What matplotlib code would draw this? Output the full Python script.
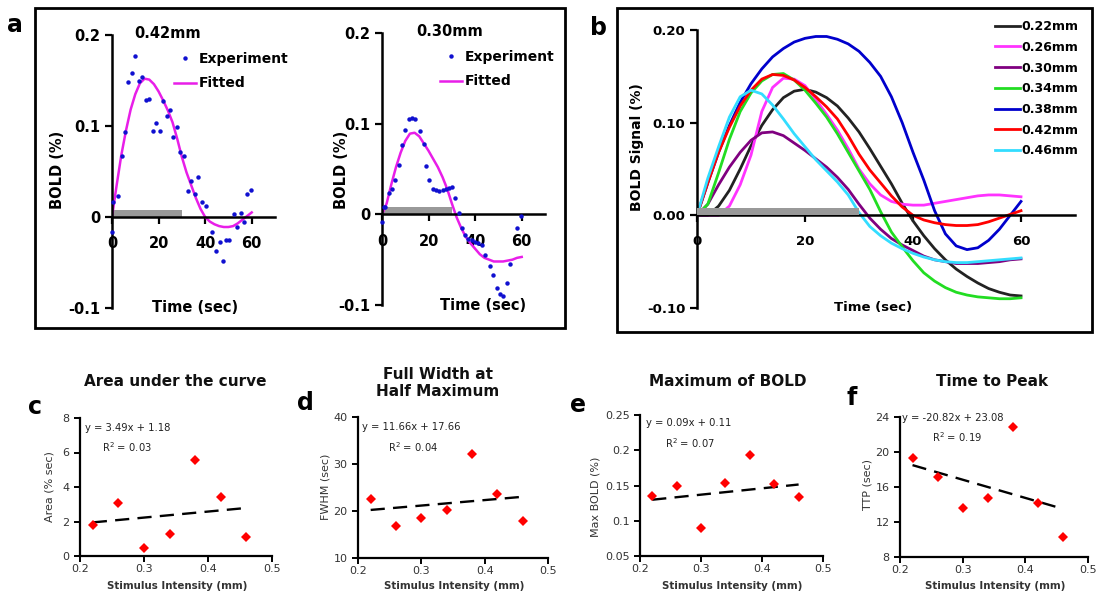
import matplotlib
matplotlib.use("Agg")
import matplotlib.pyplot as plt
from matplotlib.patches import Rectangle

plt.rcParams['font.family'] = ['DejaVu Sans']
plt.rcParams['mathtext.default'] = 'regular'

W, H = 1104, 600

# ---- panel b: fitted BOLD curves, sampled every 2 s ----
t_fit = [0, 2, 4, 6, 8, 10, 12, 14, 16, 18, 20, 22, 24, 26, 28, 30,
         32, 34, 36, 38, 40, 42, 44, 46, 48, 50, 52, 54, 56, 58, 60]
bold_022 = [0, 0.000, 0.010, 0.027, 0.050, 0.075, 0.097, 0.114, 0.127, 0.134, 0.136,
            0.133, 0.127, 0.118, 0.105, 0.090, 0.072, 0.053, 0.034, 0.013, -0.006,
            -0.022, -0.036, -0.048, -0.058, -0.066, -0.073, -0.079, -0.083, -0.086, -0.087]
bold_026 = [0, 0, 0, 0.010, 0.033, 0.065, 0.112, 0.138, 0.148, 0.147, 0.140,
            0.125, 0.109, 0.092, 0.072, 0.050, 0.034, 0.022, 0.015, 0.012, 0.011,
            0.011, 0.013, 0.015, 0.017, 0.019, 0.021, 0.022, 0.022, 0.021, 0.020]
bold_030 = [0, 0.012, 0.033, 0.052, 0.068, 0.081, 0.089, 0.090, 0.086, 0.078, 0.070,
            0.061, 0.052, 0.041, 0.028, 0.012, -0.003, -0.015, -0.025, -0.032, -0.038,
            -0.044, -0.048, -0.050, -0.052, -0.052, -0.052, -0.051, -0.050, -0.048, -0.047]
bold_034 = [0, 0.012, 0.046, 0.082, 0.112, 0.132, 0.145, 0.152, 0.153, 0.146, 0.135,
            0.121, 0.106, 0.088, 0.068, 0.048, 0.028, 0.004, -0.018, -0.034, -0.049,
            -0.062, -0.071, -0.078, -0.083, -0.086, -0.088, -0.089, -0.090, -0.090, -0.089]
bold_038 = [0, 0.035, 0.068, 0.097, 0.122, 0.142, 0.158, 0.171, 0.180, 0.187, 0.191,
            0.193, 0.193, 0.190, 0.185, 0.177, 0.165, 0.150, 0.128, 0.100, 0.068,
            0.038, 0.005, -0.020, -0.033, -0.037, -0.035, -0.027, -0.015, 0.000, 0.015]
bold_042 = [0, 0.035, 0.068, 0.095, 0.118, 0.135, 0.147, 0.152, 0.151, 0.146, 0.138,
            0.128, 0.117, 0.104, 0.086, 0.066, 0.049, 0.035, 0.021, 0.009, 0.000,
            -0.005, -0.008, -0.010, -0.011, -0.011, -0.010, -0.007, -0.003, 0.001, 0.005]
bold_046 = [0, 0.040, 0.074, 0.106, 0.128, 0.135, 0.131, 0.119, 0.104, 0.088, 0.074,
            0.060, 0.048, 0.036, 0.022, 0.003, -0.012, -0.022, -0.030, -0.036, -0.041,
            -0.045, -0.048, -0.050, -0.051, -0.051, -0.050, -0.049, -0.048, -0.047, -0.046]
curves_b = [bold_022, bold_026, bold_030, bold_034, bold_038, bold_042, bold_046]
labels_b = ['0.22mm', '0.26mm', '0.30mm', '0.34mm', '0.38mm', '0.42mm', '0.46mm']
colors_b = ['#222222', '#ff33ff', '#800080', '#22dd22', '#0000cc', '#ff0000', '#33ddff']

stim_on = [0, 30]   # stimulus period (sec)

# ---- panel a: experimental points ----
t_exp_042 = [0.0, 0.5, 2.7, 4.1, 5.6, 7.0, 8.4, 9.9, 11.6, 13.0, 14.4, 16.1, 17.6, 19.0,
             20.4, 22.0, 23.5, 24.9, 26.3, 28.0, 29.2, 31.0, 32.5, 33.9, 35.6, 37.0,
             38.5, 40.2, 43.0, 44.5, 46.2, 47.6, 49.1, 50.4, 52.4, 53.6, 55.2, 56.9,
             57.8, 59.8]
v_exp_042 = [-0.017, 0.016, 0.023, 0.067, 0.093, 0.148, 0.158, 0.177, 0.150, 0.154,
             0.129, 0.130, 0.094, 0.103, 0.095, 0.127, 0.111, 0.118, 0.088, 0.099,
             0.071, 0.067, 0.029, 0.040, 0.025, 0.044, 0.017, 0.012, -0.016, -0.037,
             -0.028, -0.048, -0.025, -0.025, 0.003, -0.011, 0.004, -0.005, 0.025, 0.030]
t_exp_030 = [0.0, 0.7, 1.5, 2.9, 4.3, 5.7, 7.1, 8.6, 10.0, 11.4, 12.9, 14.3, 16.4, 17.9,
             18.9, 20.3, 21.7, 23.3, 24.6, 26.0, 27.4, 28.9, 30.0, 31.4, 32.9, 34.3,
             35.7, 37.1, 38.6, 40.0, 41.4, 42.9, 44.4, 46.2, 47.7, 49.4, 50.6, 52.0,
             53.8, 55.0, 58.1, 59.8]
v_exp_030 = [-0.008, 0.008, 0.008, 0.023, 0.028, 0.038, 0.054, 0.076, 0.093, 0.105,
             0.106, 0.105, 0.092, 0.078, 0.053, 0.038, 0.028, 0.027, 0.026, 0.027,
             0.028, 0.029, 0.030, 0.018, 0.002, -0.015, -0.023, -0.027, -0.028, -0.030,
             -0.032, -0.034, -0.045, -0.057, -0.067, -0.081, -0.088, -0.090, -0.076,
             -0.055, -0.015, -0.002]

# ---- panels c-f ----
intensity = [0.22, 0.26, 0.30, 0.34, 0.38, 0.42, 0.46]
area = [1.8, 3.05, 0.45, 1.3, 5.55, 3.4, 1.1]
fwhm = [22.5, 16.9, 18.6, 20.2, 32.2, 23.6, 17.9]
max_bold = [0.135, 0.149, 0.090, 0.153, 0.193, 0.152, 0.133]
ttp = [19.3, 17.1, 13.6, 14.8, 22.9, 14.2, 10.3]
fit_slope = [3.49, 11.66, 0.09, -20.82]
fit_icpt = [1.18, 17.66, 0.11, 23.08]
fit_r2 = ['0.03', '0.04', '0.07', '0.19']


def fx(px):
    return px / W


def fy(py):
    return 1 - py / H


def add_ax(l, t, r, b):
    return fig.add_axes([fx(l), fy(b), (r - l) / W, (b - t) / H])


def ftext(px, py, s, **kw):
    fig.text(fx(px), fy(py), s, ha=kw.pop('ha', 'center'), va=kw.pop('va', 'center'), **kw)


def style_top(ax, yticks, ylabs, fs):
    ax.patch.set_alpha(0)
    ax.spines['top'].set_visible(False)
    ax.spines['right'].set_visible(False)
    ax.spines['bottom'].set_position(('data', 0))
    ax.spines['left'].set_linewidth(1.8)
    ax.spines['bottom'].set_linewidth(1.8)
    ax.set_xlim(0, 70)
    ax.set_ylim(-0.1, 0.2)
    ax.set_xticks([0, 20, 40, 60])
    ax.set_yticks(yticks)
    ax.set_yticklabels(ylabs)
    ax.tick_params(direction='out', length=5, width=1.6, labelsize=fs)
    ax.tick_params(axis='x', pad=9)
    for lb in ax.get_xticklabels() + ax.get_yticklabels():
        lb.set_fontweight('bold')


fig = plt.figure(figsize=(W / 100, H / 100), dpi=100)

# outer boxes around a and b
fig.add_artist(Rectangle((fx(35), fy(328)), fx(565) - fx(35), fy(8) - fy(328),
                         transform=fig.transFigure, fill=False, lw=2, ec='black'))
fig.add_artist(Rectangle((fx(617), fy(332)), fx(1092) - fx(617), fy(8) - fy(332),
                         transform=fig.transFigure, fill=False, lw=2, ec='black'))

# ---- panel a ----
a_specs = [
    (112, 35, 275, 308, t_exp_042, v_exp_042, bold_042, '0.42mm', 168, 33, 58, 195, 307, 174, 52),
    (382, 33, 545, 305, t_exp_030, v_exp_030, bold_030, '0.30mm', 450, 32, 342, 483, 305, 440, 50),
]
for (l, t, r, b, te, ve, fit, ttl, tx, ty, ylx, xlx, xly, lgx, lgy) in a_specs:
    ax = add_ax(l, t, r, b)
    style_top(ax, [-0.1, 0, 0.1, 0.2], ['-0.1', '0', '0.1', '0.2'], 10.5)
    ax.fill_between(stim_on, 0, 0.008, color='#999999', lw=0, zorder=1)
    ax.plot(te, ve, 'o', color='#1010d0', ms=3.2, mew=0, label='Experiment', zorder=3,
            clip_on=False)
    ax.plot(t_fit, fit, color='#e81ee8', lw=1.8, label='Fitted', zorder=2)
    ax.legend(loc='upper left', bbox_to_anchor=(fx(lgx), fy(lgy)),
              bbox_transform=fig.transFigure, frameon=False, borderpad=0,
              borderaxespad=0, handlelength=1.6, handletextpad=0.15, labelspacing=0.75,
              numpoints=1, prop={'weight': 'bold', 'size': 10})
    ftext(tx, ty, ttl, fontsize=10.5, fontweight='bold')
    ftext(ylx, 170, 'BOLD (%)', fontsize=10.5, fontweight='bold', rotation=90)
    ftext(xlx, xly, 'Time (sec)', fontsize=10.5, fontweight='bold')

ftext(15, 25, 'a', fontsize=17, fontweight='bold')

# ---- panel b ----
ax = add_ax(697, 30, 1075, 308)
style_top(ax, [-0.1, 0, 0.1, 0.2], ['-0.10', '0.00', '0.10', '0.20'], 9.5)
for vals, lab, col in zip(curves_b, labels_b, colors_b):
    ax.plot(t_fit, vals, color=col, lw=2, label=lab)
ax.fill_between(stim_on, 0, 0.0075, color='#999999', lw=0, zorder=5)
ax.legend(loc='upper left', bbox_to_anchor=(fx(995), fy(20)),
          bbox_transform=fig.transFigure, frameon=False, borderpad=0, borderaxespad=0,
          handlelength=2.0, handletextpad=0.1, labelspacing=0.62,
          prop={'weight': 'bold', 'size': 9})
ftext(637, 147, 'BOLD Signal (%)', fontsize=10, fontweight='bold', rotation=90)
ftext(873, 308, 'Time (sec)', fontsize=9.5, fontweight='bold')
ftext(598, 28, 'b', fontsize=17, fontweight='bold')

# ---- panels c-f ----
bot_specs = [
    (80, 418, 272, 556, area, (0, 8), [0, 2, 4, 6, 8], ['0', '2', '4', '6', '8'],
     'Area under the curve', 175, 381, 'c', 35, 407, 'Area (% sec)', 50, 487,
     85, 428, 102, 447),
    (358, 417, 548, 558, fwhm, (10, 40), [10, 20, 30, 40], ['10', '20', '30', '40'],
     'Full Width at\nHalf Maximum', 438, 383, 'd', 305, 403, 'FWHM (sec)', 325, 487,
     362, 427, 388, 447),
    (640, 415, 823, 556, max_bold, (0.05, 0.25), [0.05, 0.1, 0.15, 0.2, 0.25],
     ['0.05', '0.1', '0.15', '0.2', '0.25'],
     'Maximum of BOLD', 728, 382, 'e', 578, 405, 'Max BOLD (%)', 595, 497,
     646, 423, 665, 443),
    (900, 417, 1088, 557, ttp, (8, 24), [8, 12, 16, 20, 24], ['8', '12', '16', '20', '24'],
     'Time to Peak', 992, 382, 'f', 852, 398, 'TTP (sec)', 867, 485,
     902, 418, 932, 437),
]
for i, spec in enumerate(bot_specs):
    (l, t, r, b, vals, ylim, yt, ytl, ttl, tx, ty, let, lx, ly, ylab, ylx, yly,
     ex, ey, rx, ry) = spec
    ax = add_ax(l, t, r, b)
    ax.patch.set_alpha(0)
    ax.spines['top'].set_visible(False)
    ax.spines['right'].set_visible(False)
    ax.spines['left'].set_linewidth(1.6)
    ax.spines['bottom'].set_linewidth(1.6)
    ax.set_xlim(0.2, 0.5)
    ax.set_ylim(*ylim)
    ax.set_xticks([0.2, 0.3, 0.4, 0.5])
    ax.set_xticklabels(['0.2', '0.3', '0.4', '0.5'])
    ax.set_yticks(yt)
    ax.set_yticklabels(ytl)
    ax.tick_params(direction='out', length=4, width=1.4, labelsize=8, labelcolor='#333333')
    ax.tick_params(axis='x', pad=1.5)
    ax.plot(intensity, vals, 'D', color='#ff0000', ms=5, mew=0, clip_on=False, zorder=3)
    xs = [intensity[0], intensity[-1]]
    ax.plot(xs, [fit_slope[i] * x + fit_icpt[i] for x in xs], color='black', lw=1.7,
            dashes=(6, 3.5))
    sign = '-' if fit_icpt[i] < 0 else '+'
    ftext(ex, ey, 'y = %.2fx %s %.2f' % (fit_slope[i], sign, abs(fit_icpt[i])),
          fontsize=7.2, color='#222222', ha='left')
    ftext(rx, ry, 'R$^2$ = %s' % fit_r2[i], fontsize=7.2, color='#222222', ha='left')
    ftext(tx, ty, ttl, fontsize=11, fontweight='bold', color='#111111', linespacing=1.15)
    ftext(lx, ly, let, fontsize=17, fontweight='bold')
    ftext(ylx, yly, ylab, fontsize=8, color='#333333', rotation=90)
    ftext((l + r) / 2 + 1, 586, 'Stimulus Intensity (mm)', fontsize=7.4, fontweight='bold',
          color='#333333')

fig.savefig('out.png', dpi=100)
